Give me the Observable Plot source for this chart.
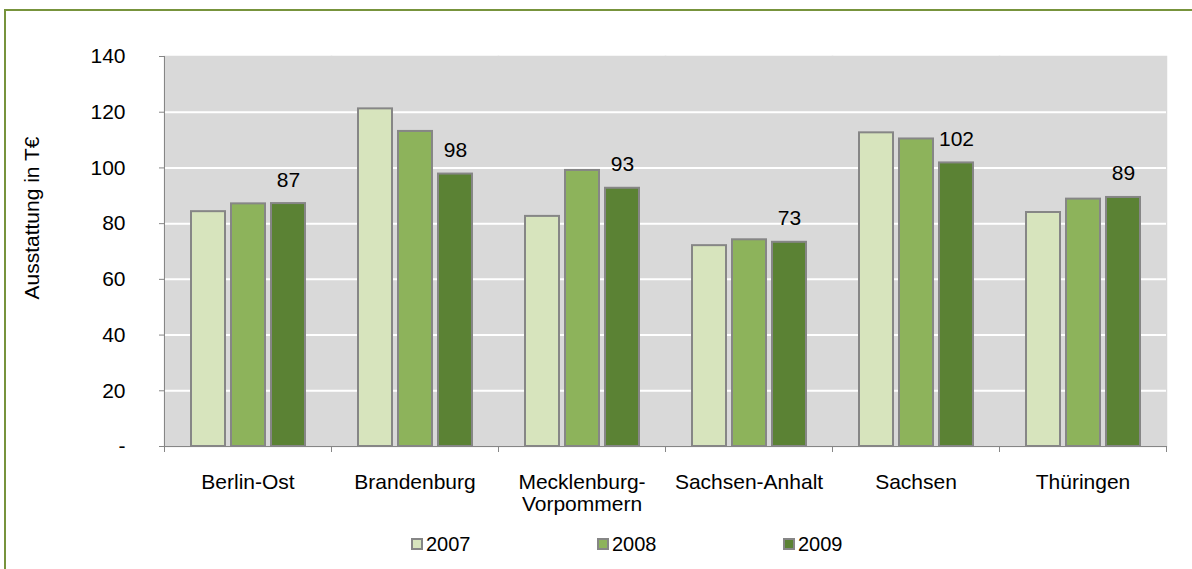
<!DOCTYPE html>
<html><head><meta charset="utf-8">
<script src="https://cdn.jsdelivr.net/npm/d3@7"></script>
<script src="https://cdn.jsdelivr.net/npm/@observablehq/plot@0.6"></script>
<style>
body{margin:0;background:#fff;font-family:"Liberation Sans",Arial,sans-serif;}
#wrap{position:relative;width:1192px;height:569px;overflow:hidden;}
#border{position:absolute;left:4px;top:9px;width:1300px;height:700px;border:2px solid #77933c;box-sizing:border-box;}
#chart{position:absolute;left:0;top:0;}
#ytitle{position:absolute;left:32px;top:218px;transform:translate(-50%,-50%) rotate(-90deg);font-size:21px;white-space:nowrap;line-height:24px;}
#legend{position:absolute;top:534px;left:411px;display:flex;height:20px;align-items:center;font-size:20px;}
#legend .item{width:186px;display:flex;align-items:center;}
#legend .sw{width:8px;height:8px;border:2px solid #868686;margin-right:3px;}
</style>
</head><body>
<div id="wrap">
  <div id="border"></div>
  <div id="chart"></div>
  <div id="ytitle">Ausstattung in T€</div>
  <div id="legend"></div>
</div>
<script>
const categories = ["Berlin-Ost","Brandenburg","Mecklenburg-Vorpommern","Sachsen-Anhalt","Sachsen","Thüringen"];
const years = ["2007","2008","2009"];
const v2007 = [84.3, 121.2, 82.6, 72.1, 112.6, 84.0];
const v2008 = [87.1, 113.1, 99.1, 74.2, 110.4, 88.8];
const v2009 = [87.2, 97.8, 92.7, 73.3, 101.8, 89.4];
const yTicks = [0, 20, 40, 60, 80, 100, 120, 140];
const colors = ["#d7e4bd", "#8db35b", "#5b8234"];
const plotBg = "#d9d9d9";
const gridColor = "white";
const axisColor = "#868686";

const series = [v2007, v2008, v2009];
const data = categories.flatMap((c, i) => years.map((yr, j) => ({cat: c, year: yr, value: series[j][i]})));
const labels = data.filter(d => d.year === "2009");

const chart = Plot.plot({
  width: 1192, height: 520,
  marginLeft: 161, marginRight: 24, marginTop: 56, marginBottom: 74,
  style: {fontFamily: '"Liberation Sans", Arial, sans-serif', fontSize: "21px", color: "black", background: "transparent"},
  fx: {domain: categories, padding: 0, label: null},
  x: {domain: years, paddingInner: 0.15, paddingOuter: 0.65, axis: null},
  y: {domain: [0, 140], label: null},
  color: {domain: years, range: colors},
  marks: [
    Plot.frame({fill: plotBg, stroke: plotBg, strokeWidth: 1.5}),
    Plot.gridY(yTicks.filter(t => t > 0 && t < 140), {stroke: gridColor, strokeOpacity: 1, strokeWidth: 2}),
    Plot.axisY(yTicks, {tickSize: 5, tickPadding: 34, stroke: axisColor, fill: "black", tickFormat: d => d === 0 ? "-" : String(d), label: null}),
    Plot.axisFx({anchor: "bottom", tickSize: 0, tickPadding: 27, label: null, lineHeight: 1.05,
      tickFormat: d => d === "Mecklenburg-Vorpommern" ? "Mecklenburg-\nVorpommern" : d}),
    Plot.ruleY([0], {stroke: axisColor}),
    Plot.barY(data, {fx: "cat", x: "year", y: "value", fill: "year", stroke: axisColor, strokeWidth: 2}),
    Plot.text(labels, {fx: "cat", x: "year", y: "value", text: d => String(Math.round(d.value)), lineAnchor: "bottom", dy: -17})
  ]
});
document.getElementById("chart").appendChild(chart);

// axis line on the left and category separator ticks, from the chart's own scales
const fx = chart.scale("fx"), y = chart.scale("y");
const svg = d3.select(chart);
const y0 = y.apply(0), yTop = y.apply(140);
const edges = categories.map(c => fx.apply(c)).concat([fx.apply(categories[categories.length - 1]) + fx.bandwidth]);
const g = svg.append("g").attr("stroke", axisColor).attr("stroke-width", 1);
g.append("line").attr("x1", edges[0] + 0.5).attr("x2", edges[0] + 0.5).attr("y1", yTop).attr("y2", y0 + 0.5);
edges.forEach(e => g.append("line").attr("x1", Math.round(e) + 0.5).attr("x2", Math.round(e) + 0.5).attr("y1", y0).attr("y2", y0 + 6));

// legend
const legend = document.getElementById("legend");
years.forEach((yr, j) => {
  const it = document.createElement("div"); it.className = "item";
  const sw = document.createElement("div"); sw.className = "sw"; sw.style.background = colors[j];
  const tx = document.createElement("span"); tx.textContent = yr;
  it.appendChild(sw); it.appendChild(tx); legend.appendChild(it);
});
</script>
</body></html>
